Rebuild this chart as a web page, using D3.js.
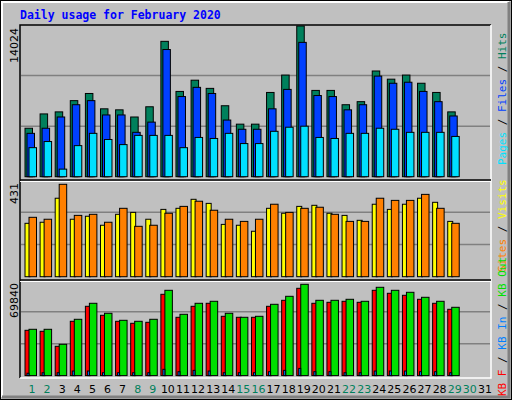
<!DOCTYPE html>
<html><head><meta charset="utf-8">
<script src="https://cdn.jsdelivr.net/npm/d3@7/dist/d3.min.js"></script>
<style>body{margin:0;background:#fff}svg{display:block}</style>
</head><body><svg id="c" width="512" height="400"></svg>
<script>
const days = d3.range(1, 32);
const weekend = [1, 2, 8, 9, 15, 16, 22, 23, 29, 30];
const hits  = [4510,5842,6032,7078,7744,6317,6222,5556,6508,12597,7935,8981,8220,6603,4890,4890,7840,9457,14024,8030,8030,6698,6983,9837,9076,9457,8696,7840,6032];
const files = [4034,4510,5556,6698,7078,5746,5746,4129,5080,11835,7459,8315,7744,5271,4414,4414,6317,8125,12501,7554,7459,6222,6698,9362,8696,8791,7935,6983,5651];
const pages = [2702,3273,704,2892,4034,3463,2987,3844,3844,3844,2702,3653,3558,4034,3083,3083,4224,4605,4700,3653,3558,4034,4034,4510,4414,4129,4129,4129,3748];
const visits = [249,254,366,268,282,240,291,300,268,314,319,361,342,244,240,212,319,296,328,333,296,286,263,338,314,338,366,347,258];
const sites  = [277,268,431,286,291,254,319,235,240,296,328,352,310,268,258,268,338,300,319,324,291,258,258,366,356,356,384,319,249];
const kbF   = [34650,33890,22410,41540,53010,46130,41540,40010,40770,62190,44600,53010,55310,45360,44600,44600,53010,57600,66780,55310,56070,56840,56070,65250,62960,61430,58370,55310,50720];
const kbIn  = [1800,2200,2200,3500,3500,2200,2200,2200,2200,4800,3000,4000,3500,2200,2200,2200,3000,4000,5500,3000,3000,2200,2200,3500,3500,3500,3000,3000,2200];
const kbOut = [35420,35420,23940,43070,55310,47660,42300,41540,43070,65250,46890,55310,56840,47660,44600,45360,54540,60660,69840,57600,57600,58370,56840,67550,65250,63720,59900,56840,52250];

const svg = d3.select("#c");
const mono = "DejaVu Sans Mono";

// frame
svg.append("rect").attr("x",0.5).attr("y",0.5).attr("width",511).attr("height",399).attr("fill","#c0c0c0").attr("stroke","#000");
svg.append("path").attr("d","M2,397V2H509").attr("fill","none").attr("stroke","#fff").attr("stroke-width",2);
svg.append("path").attr("d","M509,2V397H2").attr("fill","none").attr("stroke","#808080").attr("stroke-width",3);

svg.append("text").attr("x",20).attr("y",19).attr("fill","#0000ff").attr("font-family",mono)
  .attr("font-weight","bold").attr("font-size",11.5).text("Daily usage for February 2020");

const x = d3.scaleBand().domain(days).range([25, 25 + 31 * 15]).paddingInner(0.2).paddingOuter(0);

// plot box
svg.append("rect").attr("x",20).attr("y",25).attr("width",471).attr("height",353).attr("fill","#c0c0c0");
svg.append("path").attr("d","M20,378V25H491").attr("fill","none").attr("stroke","#000").attr("stroke-width",1.5);
svg.append("path").attr("d","M491,25V378H20").attr("fill","none").attr("stroke","#fff").attr("stroke-width",1.5);

const panels = [
  {top: 26, base: 176.7, max: 14024, label: "14024", series: [[hits, "#00805c", 0, 7.5], [files, "#0040ff", 2, 7.5], [pages, "#00e0ff", 4, 7.5]], sep: 180},
  {top: 184.3, base: 276.7, max: 431, label: "431", series: [[visits, "#ffff00", 0, 5], [sites, "#ff8000", 4, 7.5]], sep: 280},
  {top: 284.3, base: 375.6, max: 69840, label: "69840", series: [[kbF, "#ff0000", 0, 5], [kbOut, "#00e000", 4, 7.5], [kbIn, "#0080ff", 2, 2]], sep: null}
];
panels.forEach((p, i) => {
  const y = d3.scaleLinear().domain([0, p.max]).range([p.base, p.top]);
  const gt = [i === 0 ? 180 : p.sep ? p.sep - 100 : 280, p.base];
  // gridlines at thirds
  const h = p.base - (i === 0 ? 25 : i === 1 ? 180 : 280);
  [1, 2].forEach(k => svg.append("line").attr("x1",21).attr("x2",490)
    .attr("y1", p.base - h * k / 3).attr("y2", p.base - h * k / 3).attr("stroke","#808080").attr("stroke-width",1.5));
  if (p.sep) {
    svg.append("line").attr("x1",20).attr("x2",491).attr("y1",p.sep).attr("y2",p.sep).attr("stroke","#000").attr("stroke-width",1.5);
    svg.append("line").attr("x1",20).attr("x2",491).attr("y1",p.sep+1.5).attr("y2",p.sep+1.5).attr("stroke","#fff").attr("stroke-width",1);
  }
  p.series.forEach(([vals, col, off, w]) => {
    svg.append("g").selectAll("rect").data(vals).join("rect")
      .attr("x", (d, j) => x(days[j]) + off).attr("width", w)
      .attr("y", d => y(d)).attr("height", d => p.base - y(d))
      .attr("fill", col).attr("stroke", "#000").attr("stroke-width", 1);
  });
  svg.append("text").attr("transform", `translate(18,${(i === 0 ? 25 : i === 1 ? 180 : 280) + 3}) rotate(-90)`)
    .attr("text-anchor","end").attr("font-family","DejaVu Sans").attr("font-size",11).attr("fill","#000").text(p.label);
});

// day labels
svg.append("g").selectAll("text").data(days).join("text")
  .attr("x", d => x(d) + 7).attr("y", 393).attr("text-anchor","middle")
  .attr("font-family","DejaVu Sans").attr("font-size",11)
  .attr("fill", d => weekend.includes(d) ? "#00805c" : "#000").text(d => d);

// right side legends (rotated, reading bottom to top)
function legend(yBottom, parts) {
  const t = svg.append("text").attr("transform", `translate(506,${yBottom}) rotate(-90)`)
    .attr("font-family", mono).attr("font-size", 11);
  parts.forEach(([s, c]) => t.append("tspan").attr("fill", c).text(s));
}
legend(165, [["Pages", "#00e0ff"], [" / ", "#000"], ["Files", "#0040ff"], [" / ", "#000"], ["Hits", "#00805c"]]);
legend(272, [["Sites", "#ff8000"], [" / ", "#000"], ["Visits", "#ffff00"]]);
legend(396, [["KB F", "#ff0000"], [" / ", "#000"], ["KB In", "#0080ff"], [" / ", "#000"], ["KB Out", "#00e000"]]);
</script></body></html>
